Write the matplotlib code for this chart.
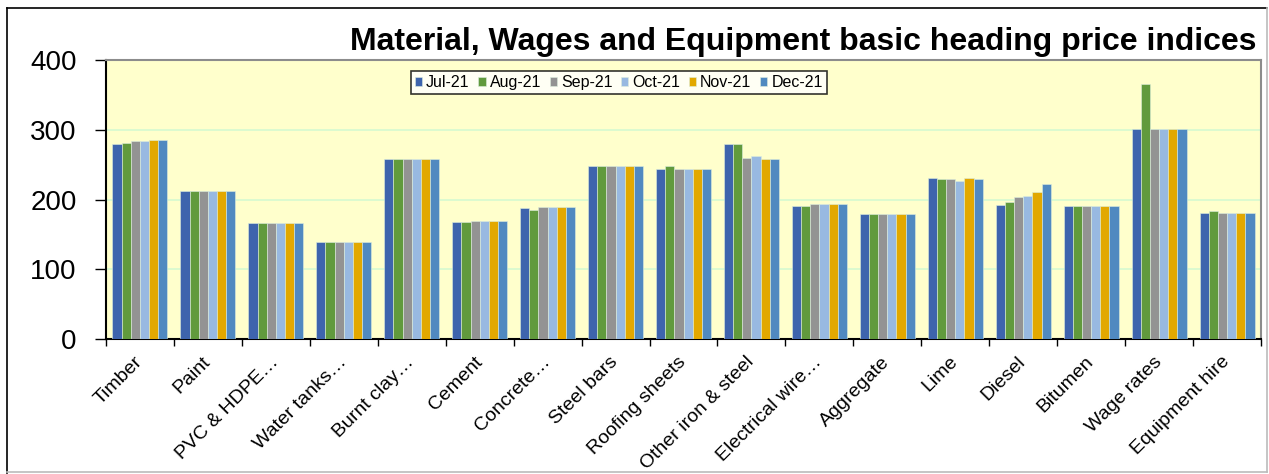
import numpy as np
import matplotlib
matplotlib.use("Agg")
import matplotlib.pyplot as plt
import matplotlib.transforms as mtransforms
from matplotlib.lines import Line2D

plt.rcParams['font.family'] = ['Liberation Sans', 'DejaVu Sans']

categories = ["Timber", "Paint", "PVC & HDPE…", "Water tanks…", "Burnt clay…",
              "Cement", "Concrete…", "Steel bars", "Roofing sheets",
              "Other iron & steel", "Electrical wire…", "Aggregate", "Lime",
              "Diesel", "Bitumen", "Wage rates", "Equipment hire"]
months = ["Jul-21", "Aug-21", "Sep-21", "Oct-21", "Nov-21", "Dec-21"]

jul = [279.6, 211.6, 166.3, 138.5, 257.5, 167.7, 187.3, 247.5, 244.2, 280.0,
       190.7, 179.2, 231.3, 192.1, 190.7, 301.0, 180.6]
aug = [281.4, 211.6, 166.3, 138.5, 257.5, 167.7, 185.4, 247.5, 247.5, 280.0,
       190.7, 179.2, 229.4, 196.8, 190.7, 366.0, 183.9]
sep = [283.3, 211.6, 166.3, 138.5, 257.5, 169.2, 189.2, 247.5, 244.2, 259.5,
       193.5, 179.2, 229.4, 203.6, 190.7, 301.0, 180.6]
oct_ = [283.3, 211.6, 166.3, 138.5, 257.5, 169.2, 189.2, 247.5, 244.2, 262.3,
        193.5, 179.2, 226.5, 205.5, 190.7, 301.0, 180.6]
nov = [285.3, 211.6, 166.3, 138.5, 257.5, 169.2, 189.2, 247.5, 244.2, 257.5,
       193.5, 179.2, 231.3, 210.2, 190.7, 301.0, 180.6]
dec = [285.3, 211.6, 166.3, 138.5, 257.5, 169.2, 189.2, 247.5, 244.2, 257.5,
       193.5, 179.2, 229.4, 221.7, 190.7, 301.0, 180.6]

series = [jul, aug, sep, oct_, nov, dec]
colors = ["#3E64AD", "#619A3D", "#939393", "#98B9E1", "#E2A800", "#5089C0"]

fig = plt.figure(figsize=(12.69, 4.74), dpi=100)
fig.set_facecolor('w')
ax = fig.add_axes([106 / 1269, 1 - 339 / 474, (1261 - 106) / 1269, (339 - 60) / 474])
ax.set_facecolor("#FFFFCC")

x = np.arange(len(categories))
w = 0.135
for i, (vals, c) in enumerate(zip(series, colors)):
    ax.bar(x + (i - 2.5) * w, vals, width=w, color=c, label=months[i],
           edgecolor="#DDEEDD", linewidth=0.4, zorder=3)

ax.set_xlim(-0.5, len(categories) - 0.5)
ax.set_ylim(0, 400)
ax.set_yticks([0, 100, 200, 300, 400])
ax.tick_params(axis='y', labelsize=20, length=8, width=1, pad=13, direction='out')
ax.yaxis.grid(True, color="#D6F9D0", linewidth=1.2, zorder=0)
ax.set_axisbelow(True)

ax.set_xticks(x)
ax.set_xticklabels(categories, rotation=45, ha='right', va='top', fontsize=14)
ax.tick_params(axis='x', which='major', length=0, pad=6)
ax.set_xticks(np.arange(-0.5, len(categories)), minor=True)
ax.tick_params(axis='x', which='minor', length=5, width=1, direction='out')

# Excel puts the rotated labels slightly right and lower
shift = mtransforms.ScaledTranslation(0.06, -0.06, fig.dpi_scale_trans)
for lbl in ax.get_xticklabels():
    lbl.set_transform(lbl.get_transform() + shift)

for s in ['left', 'bottom']:
    ax.spines[s].set_color('black')
    ax.spines[s].set_linewidth(1.5)
for s in ['top', 'right']:
    ax.spines[s].set_color('#8C8C8C')
    ax.spines[s].set_linewidth(1.5)

leg = ax.legend(ncol=6, loc='upper center', bbox_to_anchor=(0.444, 0.96),
                fontsize=11.5, frameon=True, fancybox=False, handlelength=0.45,
                handleheight=0.45, handletextpad=0.25, columnspacing=0.55,
                borderpad=0.25, borderaxespad=0)
leg.get_frame().set_edgecolor('black')
leg.get_frame().set_linewidth(1.2)

fig.text(1257 / 1269, 1 - 42 / 474,
         "Material, Wages and Equipment basic heading price indices",
         ha='right', va='center', fontsize=23, fontweight='bold')

# outer chart frame
fig.add_artist(Line2D([7 / 1269, 7 / 1269], [1 - 8 / 474, 1 - 473 / 474], color='black', lw=1.2))
fig.add_artist(Line2D([7 / 1269, 1267 / 1269], [1 - 8 / 474, 1 - 8 / 474], color='black', lw=1.2))
fig.add_artist(Line2D([1267 / 1269, 1267 / 1269], [1 - 8 / 474, 1 - 472 / 474], color='#BBBBBB', lw=1.2))
fig.add_artist(Line2D([7 / 1269, 1267 / 1269], [1 - 472 / 474, 1 - 472 / 474], color='#BBBBBB', lw=1.2))

fig.savefig("out.png", dpi=100)
